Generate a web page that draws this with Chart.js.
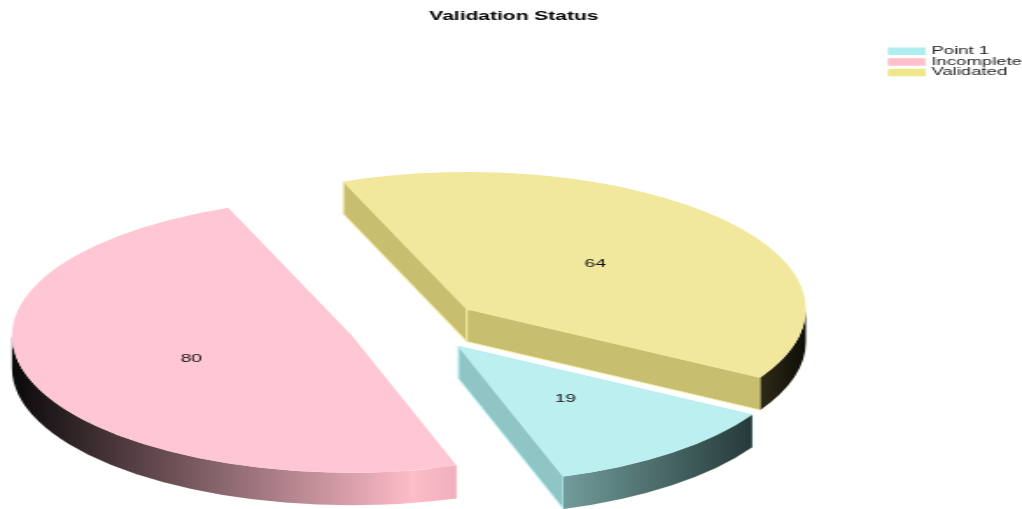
<!DOCTYPE html>
<html>
<head>
<meta charset="utf-8">
<title>Validation Status</title>
<script src="https://cdn.jsdelivr.net/npm/chart.js@4"></script>
<style>
  html, body { margin: 0; padding: 0; background: #fff; overflow: hidden; }
  /* the original picture is a narrower chart stretched sideways */
  #statusChart { display: block; width: 1022px !important; height: 509px !important; }
</style>
</head>
<body>
<canvas id="statusChart" width="584" height="509"></canvas>
<script>
const categories = ["Point 1", "Incomplete", "Validated"];
const statusCounts = [19, 80, 64];

const legendColors = ["#AFEEEE", "#FFC0CB", "#F0E68C"];
const topColors = ["#BCF0F0", "#FFC6D3", "#F1E89D"];
const cutColors = ["#8FC5C5", "#D9A3AE", "#C8BE70"];

// Rim shading per slice: [image x, colour]
const rimStops = [
  [[563, "#729D9C"], [752, "#263A3A"]],
  [[11, "#0A0809"], [413, "#FFBCC9"], [456, "#EFB0BD"]],
  [[761, "#2F2A17"], [806, "#0E0E08"]],
];

// Pie look: the slices are squashed and pulled out from this centre
const STRETCH = 1022 / 584;
const centerX = 418 / STRETCH;
const centerY = 326;
const radiusX = 339 / STRETCH;
const radiusY = 137;
const depth = 32.5;
const explode = [0.19, 0.21, 0.19];

const pie3d = {
  id: "pie3d",
  beforeDatasetsDraw(chart) {
    const ctx = chart.ctx;
    const arcs = chart.getDatasetMeta(0).data;

    // Back to front so nearer slices stay on top
    for (let i = arcs.length - 1; i >= 0; i--) {
      const arc = arcs[i];
      const mid = (arc.startAngle + arc.endAngle) / 2;
      const ax = centerX + Math.cos(mid) * explode[i] * radiusX;
      const ay = centerY + Math.sin(mid) * explode[i] * radiusY;

      drawCut(ctx, ax, ay, arc.startAngle, cutColors[i], topColors[i]);
      drawCut(ctx, ax, ay, arc.endAngle, cutColors[i], topColors[i]);
      drawRim(ctx, ax, ay, arc, rimStops[i]);

      // Top of the slice is the library's own arc
      ctx.save();
      ctx.translate(ax, ay);
      ctx.scale(radiusX / arc.outerRadius, radiusY / arc.outerRadius);
      ctx.translate(-arc.x, -arc.y);
      arc.draw(ctx);
      ctx.restore();

      // Value label halfway out
      ctx.save();
      ctx.font = "11px 'Liberation Sans'";
      ctx.fillStyle = "#111";
      ctx.textAlign = "center";
      ctx.textBaseline = "middle";
      ctx.fillText(
        String(statusCounts[i]),
        ax + Math.cos(mid) * radiusX * 0.5,
        ay + Math.sin(mid) * radiusY * 0.5
      );
      ctx.restore();
    }
    return false;
  },
};

// Flat wall along one cut edge of a slice
function drawCut(ctx, ax, ay, angle, fill, edge) {
  const rx = ax + Math.cos(angle) * radiusX;
  const ry = ay + Math.sin(angle) * radiusY;
  ctx.save();
  ctx.beginPath();
  ctx.moveTo(ax, ay);
  ctx.lineTo(rx, ry);
  ctx.lineTo(rx, ry + depth);
  ctx.lineTo(ax, ay + depth);
  ctx.closePath();
  ctx.fillStyle = fill;
  ctx.fill();
  ctx.strokeStyle = edge;
  ctx.lineWidth = 1;
  ctx.stroke();
  ctx.restore();
}

// Curved outer wall, only the part that faces the viewer
function drawRim(ctx, ax, ay, arc, stops) {
  const gradient = ctx.createLinearGradient(
    stops[0][0] / STRETCH, 0,
    stops[stops.length - 1][0] / STRETCH, 0
  );
  const span = stops[stops.length - 1][0] - stops[0][0];
  stops.forEach((stop) => {
    gradient.addColorStop((stop[0] - stops[0][0]) / span, stop[1]);
  });

  [0, 2 * Math.PI].forEach((turn) => {
    const from = Math.max(arc.startAngle, turn);
    const to = Math.min(arc.endAngle, turn + Math.PI);
    if (to <= from) return;
    ctx.save();
    ctx.beginPath();
    ctx.ellipse(ax, ay, radiusX, radiusY, 0, from, to);
    ctx.ellipse(ax, ay + depth, radiusX, radiusY, 0, to, from, true);
    ctx.closePath();
    ctx.fillStyle = gradient;
    ctx.fill();
    ctx.restore();
  });
}

new Chart(document.getElementById("statusChart"), {
  type: "pie",
  data: {
    labels: categories,
    datasets: [
      {
        data: statusCounts,
        backgroundColor: topColors,
        borderWidth: 0,
      },
    ],
  },
  options: {
    responsive: false,
    devicePixelRatio: 1,
    animation: false,
    rotation: 120,
    layout: { padding: { left: -6.6, right: -10 } },
    plugins: {
      tooltip: { enabled: false },
      title: {
        display: true,
        text: "Validation Status",
        color: "#000",
        font: { family: "'Liberation Sans'", size: 12, weight: "bold" },
        padding: { top: 9, bottom: 22.6 },
      },
      legend: {
        position: "right",
        align: "start",
        fullSize: false,
        labels: {
          color: "#222",
          boxWidth: 19.5,
          boxHeight: 3.5,
          padding: 0,
          font: { family: "'Liberation Sans'", size: 10.6, lineHeight: 1 },
          generateLabels(chart) {
            const items = Chart.overrides.pie.plugins.legend.labels.generateLabels(chart);
            // a thick same-colour border keeps the label close to the swatch
            items.forEach((item, i) => {
              item.fillStyle = legendColors[i];
              item.strokeStyle = legendColors[i];
              item.lineWidth = 4;
            });
            return items;
          },
        },
      },
    },
  },
  plugins: [pie3d],
});
</script>
</body>
</html>
